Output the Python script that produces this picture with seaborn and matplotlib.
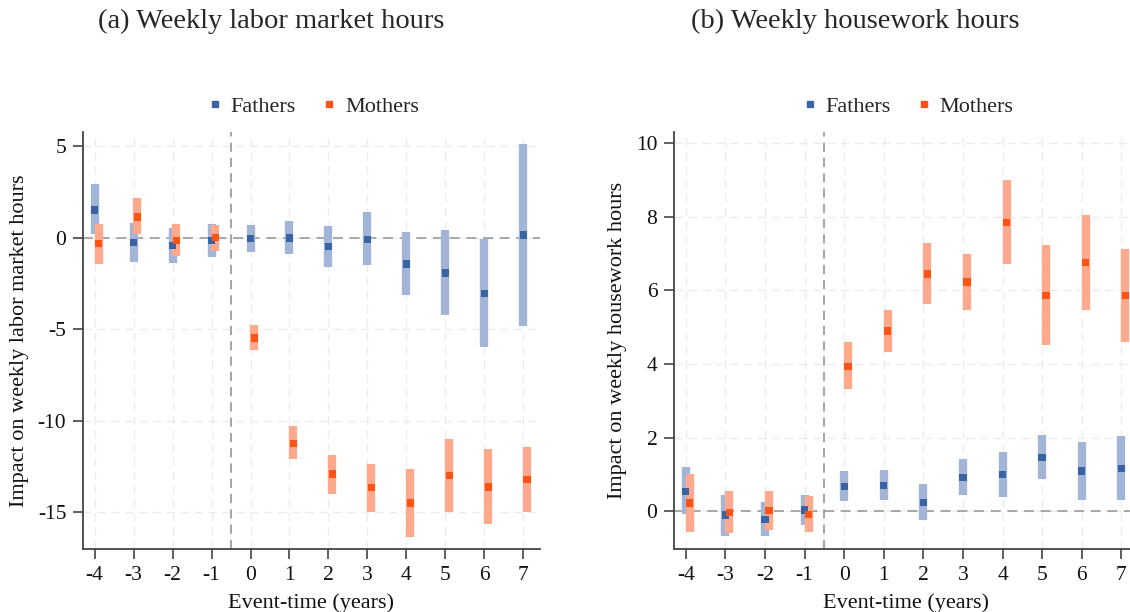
import numpy as np
import pandas as pd
import matplotlib.pyplot as plt
import seaborn as sns
from matplotlib.lines import Line2D

# Event-time (years)
event_time = [-4, -3, -2, -1, 0, 1, 2, 3, 4, 5, 6, 7]

# (a) Weekly labor market hours
labor_fathers = [1.51, -0.27, -0.44, -0.15, -0.05, -0.02, -0.46, -0.09, -1.44, -1.93, -3.05, 0.15]
labor_fathers_lo = [0.18, -1.33, -1.37, -1.06, -0.78, -0.91, -1.59, -1.51, -3.14, -4.23, -5.97, -4.80]
labor_fathers_hi = [2.92, 0.78, 0.53, 0.75, 0.71, 0.91, 0.66, 1.39, 0.29, 0.40, -0.05, 5.13]
labor_mothers = [-0.33, 1.13, -0.15, 0.02, -5.47, -11.24, -12.91, -13.65, -14.49, -12.98, -13.62, -13.22]
labor_mothers_lo = [-1.41, 0.18, -0.99, -0.71, -6.11, -12.11, -14.00, -14.96, -16.33, -14.96, -15.65, -14.96]
labor_mothers_hi = [0.73, 2.15, 0.73, 0.71, -4.78, -10.31, -11.84, -12.35, -12.62, -11.00, -11.55, -11.45]

# (b) Weekly housework hours
house_fathers = [0.54, -0.11, -0.23, 0.03, 0.67, 0.70, 0.24, 0.92, 1.00, 1.46, 1.09, 1.16]
house_fathers_lo = [-0.08, -0.67, -0.68, -0.38, 0.28, 0.31, -0.23, 0.45, 0.38, 0.86, 0.29, 0.29]
house_fathers_hi = [1.20, 0.45, 0.24, 0.44, 1.09, 1.12, 0.73, 1.42, 1.62, 2.07, 1.88, 2.05]
house_mothers = [0.22, -0.04, 0.01, -0.10, 3.94, 4.90, 6.45, 6.23, 7.85, 5.86, 6.76, 5.86]
house_mothers_lo = [-0.58, -0.60, -0.52, -0.58, 3.31, 4.33, 5.63, 5.48, 6.73, 4.51, 5.46, 4.59]
house_mothers_hi = [1.02, 0.55, 0.54, 0.41, 4.60, 5.48, 7.29, 6.99, 8.99, 7.23, 8.06, 7.14]

groups = ['Fathers', 'Mothers']
dark = {'Fathers': '#3a63a4', 'Mothers': '#ff5316'}
light = {'Fathers': '#a2b5d6', 'Mothers': '#ffa98c'}
offset = {'Fathers': 0.0, 'Mothers': 0.1}


def make_df(f, flo, fhi, m, mlo, mhi):
    rows = []
    for g, est, lo, hi in [('Fathers', f, flo, fhi), ('Mothers', m, mlo, mhi)]:
        for t, e, l, h in zip(event_time, est, lo, hi):
            rows.append({'t': t, 'x': t + offset[g], 'est': e, 'lo': l, 'hi': h, 'group': g})
    return pd.DataFrame(rows)


labor = make_df(labor_fathers, labor_fathers_lo, labor_fathers_hi,
                labor_mothers, labor_mothers_lo, labor_mothers_hi)
house = make_df(house_fathers, house_fathers_lo, house_fathers_hi,
                house_mothers, house_mothers_lo, house_mothers_hi)

sns.set_theme(style='white')
plt.rcParams['font.family'] = ['Liberation Serif', 'DejaVu Serif']
plt.rcParams['axes.unicode_minus'] = False

fig = plt.figure(figsize=(11.3, 6.12), dpi=100)
ax1 = fig.add_axes([0.0734, 0.103, 0.4045, 0.682])
ax2 = fig.add_axes([0.5964, 0.103, 0.411, 0.682])


def draw(ax, df, ylim, yticks, ylabel):
    for g in groups:
        d = df[df.group == g]
        ax.vlines(d['x'], d['lo'], d['hi'], colors=light[g], linewidth=6, zorder=2)
    sns.scatterplot(data=df, x='x', y='est', hue='group', palette=dark, marker='s',
                    s=28, linewidth=0, legend=False, zorder=3, ax=ax)
    ax.axhline(0, color='#9a9a9a', linestyle=(0, (6, 4)), linewidth=1.2, zorder=1)
    ax.axvline(-0.5, color='#8c8c8c', linestyle=(0, (6, 4)), linewidth=1.1, zorder=1)
    ax.set_xlim(-4.3, 7.43)
    ax.set_ylim(*ylim)
    ax.set_xticks(event_time)
    ax.set_yticks(yticks)
    ax.grid(True, color='#ececec', linestyle=(0, (6, 4)), linewidth=1.0, zorder=0)
    ax.set_axisbelow(True)
    for s in ['top', 'right']:
        ax.spines[s].set_visible(False)
    for s in ['left', 'bottom']:
        ax.spines[s].set_color('#444444')
        ax.spines[s].set_linewidth(1.3)
    ax.tick_params(axis='both', direction='out', length=7, width=1.2, color='#444444',
                   labelsize=15.5, labelcolor='#111111', left=True, bottom=True, pad=5)
    ax.set_xlabel('Event-time (years)', fontsize=16, color='#111111', labelpad=6)
    ax.set_ylabel(ylabel, fontsize=16, color='#111111', labelpad=6)
    handles = [Line2D([], [], marker='s', color=dark[g], linestyle='none', markersize=5)
               for g in groups]
    ax.legend(handles, groups, loc='center', bbox_to_anchor=(0.5, 1.06), ncol=2,
              frameon=False, fontsize=16, handletextpad=0.2, columnspacing=1.0,
              handlelength=1.0)


draw(ax1, labor, (-17, 5.8), [-15, -10, -5, 0, 5], 'Impact on weekly labor market hours')
draw(ax2, house, (-1.03, 10.32), [0, 2, 4, 6, 8, 10], 'Impact on weekly housework hours')

fig.text(0.24, 0.965, '(a) Weekly labor market hours', ha='center', va='center', fontsize=20.5)
fig.text(0.757, 0.965, '(b) Weekly housework hours', ha='center', va='center', fontsize=20.5)

fig.savefig('out.png', dpi=100)
